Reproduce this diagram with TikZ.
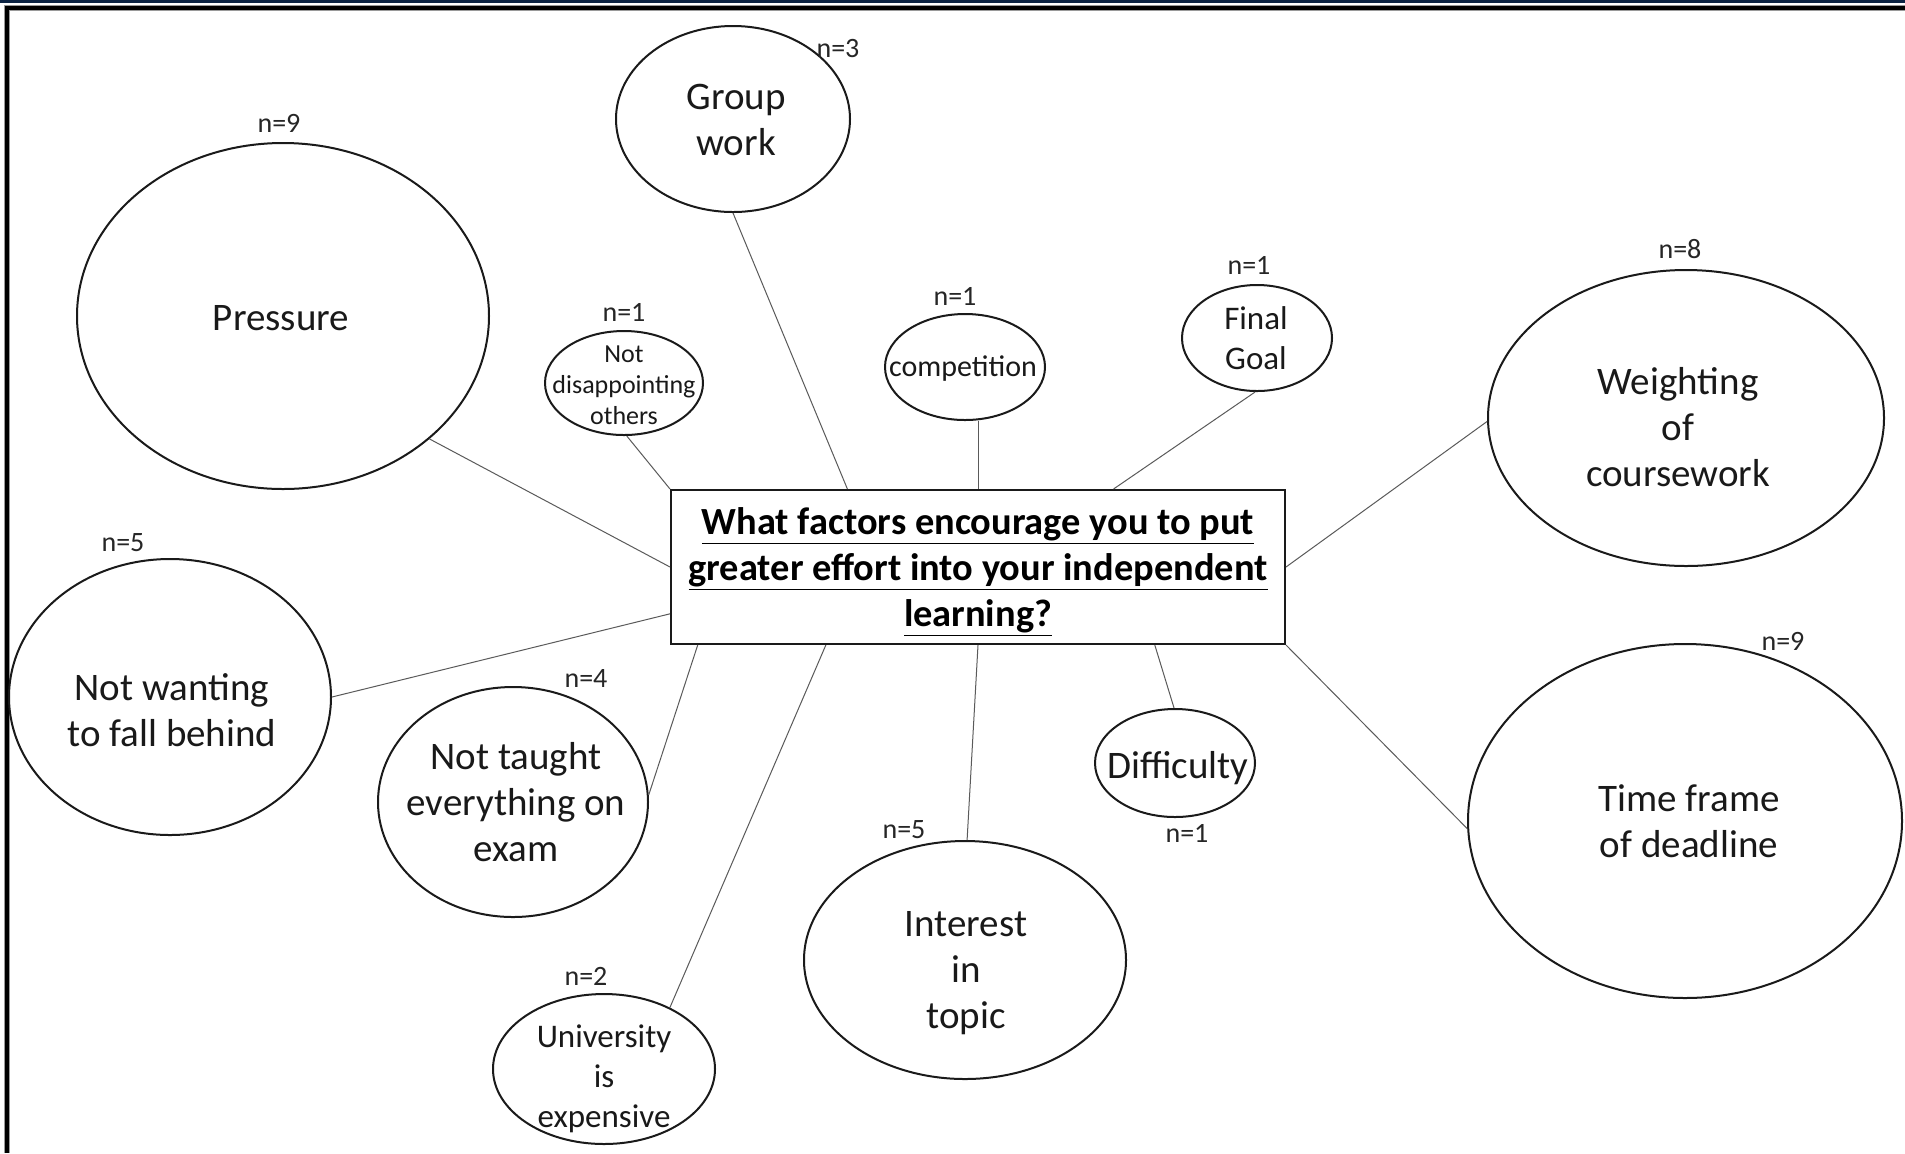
\documentclass[tikz,border=0pt]{standalone}
\usepackage{fontspec}
\setmainfont{Carlito}
\usetikzlibrary{shapes.geometric,calc}
\definecolor{navyband}{HTML}{0B2343}
\definecolor{inkline}{HTML}{1A1A1A}
\definecolor{linkgrey}{HTML}{5A5A5A}
\definecolor{framegrey}{HTML}{9A9A9A}
\begin{document}
\begin{tikzpicture}[x=0.5pt,y=-0.5pt,
  bubble/.style={ellipse, draw=inkline, line width=1pt, inner sep=0pt},
  word/.style={align=center, inner sep=0pt, text=black!90, font=\fontsize{19.5}{23}\selectfont},
  midword/.style={word, font=\fontsize{16.5}{20}\selectfont},
  smallword/.style={word, font=\fontsize{15}{18}\selectfont},
  tinyword/.style={word, font=\fontsize{13}{15.5}\selectfont},
  count/.style={inner sep=0pt, text=black!85, font=\fontsize{14}{16}\selectfont},
  link/.style={draw=linkgrey, line width=0.5pt}]
\useasboundingbox (0,0) rectangle (1905,1153);
\fill[white] (0,0) rectangle (1905,1153);

% page frame: band at the top, rule along the top and left
\fill[navyband] (0,0) rectangle (1905,3);
\draw[framegrey, line width=3pt] (7,1153) -- (7,8) -- (1905,8);
\draw[black, line width=2pt] (7,1153) -- (7,8) -- (1905,8);

% central question
\node[draw=inkline, line width=1pt, minimum width=307pt, minimum height=77pt,
      inner sep=0pt] (q) at (978,567) {};
\node[align=center, inner sep=0pt, font=\bfseries\fontsize{19.2}{23}\selectfont]
  (qt) at (978,572)
  {\underline{What factors encourage you to put}\\
   \underline{greater effort into your independent}\\
   \underline{learning?}};

% factor bubbles
\node[bubble, minimum width=206pt, minimum height=173pt] (press)    at (283,316)  {};
\node[bubble, minimum width=117pt, minimum height=93pt]  (group)    at (733,119)  {};
\node[bubble, minimum width=79pt,  minimum height=52pt]  (notdis)   at (624,383)  {};
\node[bubble, minimum width=80pt,  minimum height=53pt]  (comp)     at (965,367)  {};
\node[bubble, minimum width=75pt,  minimum height=53pt]  (goal)     at (1257,338) {};
\node[bubble, minimum width=198pt, minimum height=148pt] (weight)   at (1686,418) {};
\node[bubble, minimum width=161pt, minimum height=138pt] (behind)   at (170,697)  {};
\node[bubble, minimum width=135pt, minimum height=115pt] (taught)   at (513,802)  {};
\node[bubble, minimum width=111pt, minimum height=75pt]  (univ)     at (604,1069) {};
\node[bubble, minimum width=161pt, minimum height=119pt] (interest) at (965,960)  {};
\node[bubble, minimum width=80pt,  minimum height=54pt]  (diff)     at (1175,763) {};
\node[bubble, minimum width=217pt, minimum height=177pt] (time)     at (1685,821) {};

% bubble texts
\node[word]      (presst)    at (281,318)  {Pressure};
\node[word]      (groupt)    at (736,120)  {Group\\work};
\node[tinyword]  (notdist)   at (624,385)  {Not\\disappointing\\others};
\node[smallword] (compt)     at (963,369)  {competition};
\node[midword]   (goalt)     at (1256,338) {Final\\Goal};
\node[word]      (weightt)   at (1678,427) {Weighting\\of\\coursework};
\node[word]      (behindt)   at (172,710)  {Not wanting\\to fall behind};
\node[word]      (taughtt)   at (516,802)  {Not taught\\everything on\\exam};
\node[midword]   (univt)     at (604,1079) {University\\is\\expensive};
\node[word]      (interestt) at (966,973)  {Interest\\in\\topic};
\node[word]      (difft)     at (1178,768) {Difficulty};
\node[word]      (timet)     at (1689,821) {Time frame\\of deadline};

% response counts
\node[count] (npress)    at (279,123)  {n=9};
\node[count] (ngroup)    at (838,49)   {n=3};
\node[count] (nnotdis)   at (624,312)  {n=1};
\node[count] (ncomp)     at (955,296)  {n=1};
\node[count] (ngoal)     at (1249,265) {n=1};
\node[count] (nweight)   at (1680,249) {n=8};
\node[count] (nbehind)   at (123,543)  {n=5};
\node[count] (ntaught)   at (586,678)  {n=4};
\node[count] (nuniv)     at (586,976)  {n=2};
\node[count] (ninterest) at (904,830)  {n=5};
\node[count] (ndiff)     at (1187,833) {n=1};
\node[count] (ntime)     at (1783,641) {n=9};

% connectors to the question
\draw[link] (press.-40)  -- (q.west);
\draw[link] (group.-90)  -- ($(q.north west)!0.288!(q.north east)$);
\draw[link] (notdis.-87) -- (q.north west);
\draw[link] (q.north |- comp.south) -- (q.north);
\draw[link] (goal.-92)   -- ($(q.north west)!0.72!(q.north east)$);
\draw[link] (weight.181) -- (q.east);
\draw[link] (behind.0)   -- ($(q.north west)!0.8!(q.south west)$);
\draw[link] (taught.3)   -- ($(q.south west)!0.045!(q.south east)$);
\draw[link] (univ.43)    -- ($(q.south west)!0.253!(q.south east)$);
\draw[link] (interest.89) -- (q.south);
\draw[link] (diff.91)    -- ($(q.south west)!0.787!(q.south east)$);
\draw[link] (time.182)   -- (q.south east);
\end{tikzpicture}
\end{document}
